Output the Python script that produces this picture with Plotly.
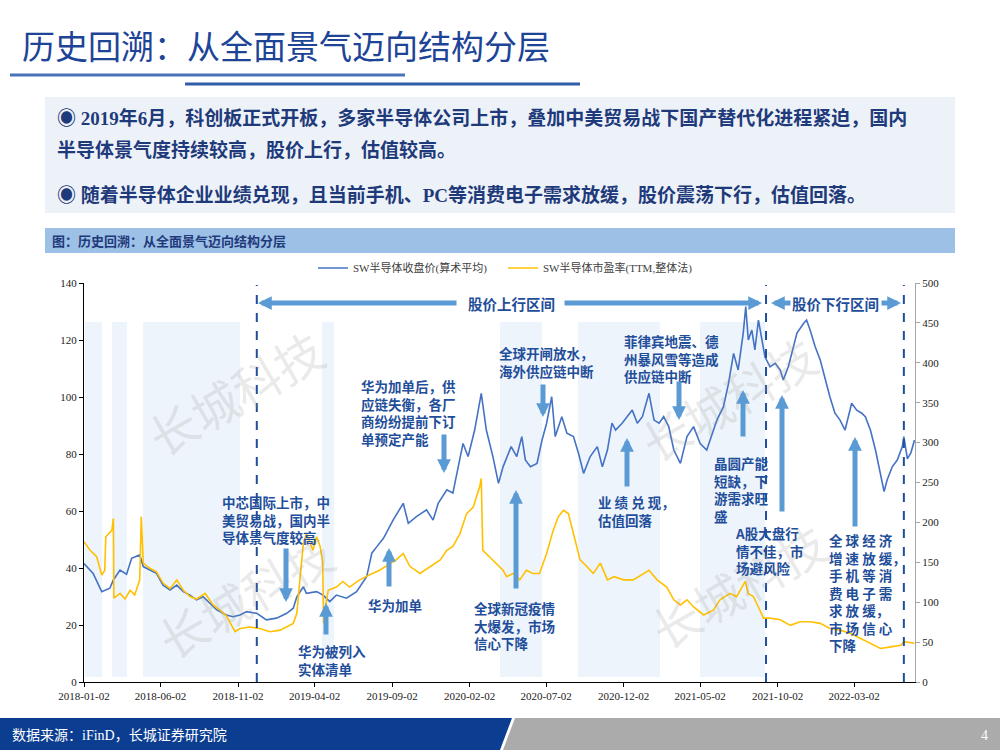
import plotly.graph_objects as go

# ---------------- data ----------------
price_dates = [
    "2018-01-02", "2018-01-20", "2018-02-06", "2018-02-22", "2018-03-01", "2018-03-14", "2018-03-27",
    "2018-04-06", "2018-04-22", "2018-04-29", "2018-05-12", "2018-05-25", "2018-06-07", "2018-06-21",
    "2018-07-04", "2018-07-17", "2018-07-30", "2018-08-12", "2018-08-25", "2018-09-07", "2018-09-21",
    "2018-10-10", "2018-10-23", "2018-11-06", "2018-11-19", "2018-12-09", "2018-12-28", "2019-01-17",
    "2019-02-06", "2019-02-19", "2019-02-26", "2019-03-11", "2019-03-17", "2019-04-06", "2019-04-19",
    "2019-05-02", "2019-05-15", "2019-06-04", "2019-06-24", "2019-07-14", "2019-07-24", "2019-08-03",
    "2019-08-16", "2019-09-04", "2019-09-24", "2019-10-04", "2019-10-20", "2019-11-09", "2019-11-22",
    "2019-12-02", "2019-12-19", "2019-12-31", "2020-01-11", "2020-01-20", "2020-01-30", "2020-02-12",
    "2020-02-25", "2020-03-06", "2020-03-19", "2020-03-30", "2020-04-08", "2020-04-24", "2020-05-05",
    "2020-05-15", "2020-05-22", "2020-06-01", "2020-06-14", "2020-06-24", "2020-07-03", "2020-07-13",
    "2020-07-20", "2020-08-02", "2020-08-12", "2020-08-25", "2020-09-04", "2020-09-14", "2020-09-27",
    "2020-10-11", "2020-10-21", "2020-10-31", "2020-11-09", "2020-11-16", "2020-11-29", "2020-12-09",
    "2020-12-19", "2020-12-29", "2021-01-08", "2021-01-21", "2021-01-31", "2021-02-10", "2021-02-19",
    "2021-03-01", "2021-03-11", "2021-03-24", "2021-04-06", "2021-04-19", "2021-05-02", "2021-05-15",
    "2021-05-28", "2021-06-04", "2021-06-17", "2021-06-27", "2021-07-07", "2021-07-16", "2021-07-26",
    "2021-07-31", "2021-08-05", "2021-08-12", "2021-08-18", "2021-08-25", "2021-09-01", "2021-09-07",
    "2021-09-17", "2021-09-27", "2021-10-07", "2021-10-13", "2021-10-23", "2021-10-30", "2021-11-09",
    "2021-11-22", "2021-11-28", "2021-12-05", "2021-12-15", "2021-12-25", "2022-01-04", "2022-01-13",
    "2022-01-23", "2022-02-02", "2022-02-12", "2022-02-19", "2022-02-25", "2022-03-07", "2022-03-17",
    "2022-03-24", "2022-04-03", "2022-04-13", "2022-04-23", "2022-04-30", "2022-05-06", "2022-05-16",
    "2022-05-26", "2022-06-05", "2022-06-08", "2022-06-15", "2022-06-22", "2022-06-29",
]
price_vals = [
    41.6, 38.1, 31.7, 32.9, 35.8, 39.3, 37.8,
    43.4, 44.6, 40.5, 39.3, 38.1, 34.0, 32.3,
    34.0, 31.7, 30.5, 28.8, 29.9, 27.6, 25.3,
    23.5, 22.9, 23.5, 24.7, 24.1, 21.8, 22.4,
    24.1, 25.9, 29.9, 33.4, 31.1, 31.7, 30.5,
    28.2, 30.5, 29.4, 31.7, 37.0, 45.2, 47.5,
    50.4, 56.8, 62.7, 55.7, 58.0, 60.4, 56.8,
    62.7, 67.4, 66.3, 75.5, 83.7, 79.1, 88.4,
    101.3, 88.4, 79.1, 69.7, 75.5, 82.6, 79.1,
    86.1, 77.9, 75.5, 76.7, 84.9, 90.8, 100.1,
    86.1, 93.1, 87.3, 86.1, 80.2, 73.2, 79.1,
    82.6, 75.5, 81.4, 90.8, 88.4, 90.8, 93.1,
    95.4, 90.8, 93.1, 101.3, 91.9, 90.8, 93.1,
    89.6, 81.4, 76.7, 86.1, 89.6, 83.7, 81.4,
    88.4, 91.9, 96.6, 104.8, 115.3, 109.5, 122.4,
    131.7, 120.0, 123.5, 116.5, 127.0, 120.0, 114.0,
    110.6, 111.8, 109.5, 106.0, 110.6, 115.3, 122.4,
    125.8, 127.0, 123.5, 117.6, 113.0, 106.0, 100.1,
    94.3, 91.9, 88.4, 93.1, 97.8, 95.4, 94.3,
    93.1, 88.4, 81.4, 72.0, 66.8, 70.9, 75.5,
    77.9, 82.6, 86.1, 78.3, 80.5, 84.9,
]

pe_dates = [
    "2018-01-02", "2018-01-14", "2018-01-27", "2018-02-06", "2018-02-12", "2018-02-14", "2018-02-26",
    "2018-03-01", "2018-03-02", "2018-03-14", "2018-03-24", "2018-04-03", "2018-04-12", "2018-04-22",
    "2018-04-25", "2018-04-29", "2018-05-12", "2018-05-25", "2018-06-07", "2018-06-21", "2018-07-04",
    "2018-07-17", "2018-07-30", "2018-08-12", "2018-08-29", "2018-09-14", "2018-09-27", "2018-10-10",
    "2018-10-27", "2018-11-06", "2018-11-25", "2018-12-15", "2019-01-04", "2019-01-24", "2019-02-19",
    "2019-02-26", "2019-03-04", "2019-03-11", "2019-03-17", "2019-03-30", "2019-04-06", "2019-04-13",
    "2019-04-18", "2019-04-20", "2019-04-25", "2019-04-29", "2019-05-15", "2019-05-28", "2019-06-10",
    "2019-06-30", "2019-07-19", "2019-08-08", "2019-08-21", "2019-09-10", "2019-09-24", "2019-10-07",
    "2019-10-27", "2019-11-16", "2019-12-06", "2019-12-19", "2019-12-31", "2020-01-14", "2020-01-27",
    "2020-02-09", "2020-02-22", "2020-02-25", "2020-02-28", "2020-03-12", "2020-03-25", "2020-04-08",
    "2020-04-15", "2020-04-28", "2020-05-11", "2020-05-24", "2020-06-06", "2020-06-19", "2020-07-03",
    "2020-07-16", "2020-07-26", "2020-08-05", "2020-08-15", "2020-08-25", "2020-09-07", "2020-09-20",
    "2020-10-03", "2020-10-17", "2020-10-31", "2020-11-13", "2020-12-02", "2020-12-21", "2021-01-10",
    "2021-01-21", "2021-02-06", "2021-02-25", "2021-03-11", "2021-03-24", "2021-04-06", "2021-04-19",
    "2021-05-09", "2021-05-28", "2021-06-10", "2021-06-30", "2021-07-13", "2021-07-23", "2021-07-30",
    "2021-08-05", "2021-08-15", "2021-08-25", "2021-09-04", "2021-09-17", "2021-10-07", "2021-10-27",
    "2021-11-15", "2021-12-05", "2021-12-25", "2022-01-13", "2022-02-02", "2022-02-22", "2022-03-14",
    "2022-04-03", "2022-04-23", "2022-05-13", "2022-06-02", "2022-06-08", "2022-06-29",
]
pe_vals = [
    175.8, 165, 157, 134, 140, 182, 190,
    205, 105, 111, 104, 115, 109, 128,
    207, 149, 142.5, 138, 124, 117, 128,
    115, 107, 104, 111, 96.5, 90, 83,
    63, 67, 69, 67, 63, 65, 73.5,
    86, 128, 174, 186, 165, 182, 170,
    150, 73.5, 100, 115, 119, 126, 119,
    128, 134, 140, 145, 153, 161, 145,
    136, 145, 153, 165, 170, 186, 211,
    219, 245, 255, 165, 157, 149, 140,
    132, 136, 128, 140, 136, 136, 161,
    190, 207, 215, 211, 186, 153, 145,
    136, 149, 128, 132, 128, 128, 136,
    140, 128, 119, 103, 96.5, 103, 94,
    84, 90, 103, 111, 107, 119, 126,
    111, 107, 94, 80, 80, 78, 71,
    75.5, 75.5, 73.5, 67, 65, 61, 55,
    48.5, 42, 44, 46, 50.5, 48.5,
]

series_names = ["SW半导体收盘价(算术平均)", "SW半导体市盈率(TTM,整体法)"]
tick_dates = ["2018-01-02", "2018-06-02", "2018-11-02", "2019-04-02", "2019-09-02", "2020-02-02",
              "2020-07-02", "2020-12-02", "2021-05-02", "2021-10-02", "2022-03-02"]
tick_labels = tick_dates
phase_dates = ["2018-12-09", "2021-09-09", "2022-06-08"]
phase_labels = ["股价上行区间", "股价下行区间"]

title_text = "历史回溯：从全面景气迈向结构分层"
bullet_lines = [
    "◉ 2019年6月，科创板正式开板，多家半导体公司上市，叠加中美贸易战下国产替代化进程紧迫，国内",
    "半导体景气度持续较高，股价上行，估值较高。",
    "◉ 随着半导体企业业绩兑现，且当前手机、PC等消费电子需求放缓，股价震荡下行，估值回落。",
]
caption_text = "图：历史回溯：从全面景气迈向结构分层"
source_text = "数据来源：iFinD，长城证券研究院"
page_no = "4"

# ---------------- layout helpers (pixel -> paper) ----------------
W, H = 1000, 750
L, R, T, B = 84, 915, 283, 682


def fx(x):
    return (x - L) / (R - L)


def fy(y):
    return (B - y) / (B - T)


BLUE = "#4472C4"
GOLD = "#FFC000"
NAVY = "#1F4E9A"
ARROW = "#5B9BD5"
CJK = "Noto Sans CJK SC"
SERIF = "Liberation Serif, Noto Sans CJK SC"

fig = go.Figure()
fig.add_trace(go.Scatter(x=price_dates, y=price_vals, name=series_names[0], mode="lines",
                         line=dict(color=BLUE, width=1.6), yaxis="y"))
fig.add_trace(go.Scatter(x=pe_dates, y=pe_vals, name=series_names[1], mode="lines",
                         line=dict(color=GOLD, width=1.6), yaxis="y2"))

shapes = []
# page decorations
shapes.append(dict(type="line", xref="paper", yref="paper", x0=fx(10), x1=fx(405), y0=fy(75), y1=fy(75),
                   line=dict(color="#4A72B8", width=3)))
shapes.append(dict(type="line", xref="paper", yref="paper", x0=fx(185), x1=fx(580), y0=fy(84), y1=fy(84),
                   line=dict(color="#2F5DAA", width=3)))
shapes.append(dict(type="rect", xref="paper", yref="paper", x0=fx(45), x1=fx(955), y0=fy(213), y1=fy(97),
                   fillcolor="#EDF2F9", line=dict(width=0), layer="below"))
shapes.append(dict(type="rect", xref="paper", yref="paper", x0=fx(45), x1=fx(955), y0=fy(253), y1=fy(228),
                   fillcolor="#9DC0E6", line=dict(width=0), layer="below"))
shapes.append(dict(type="path", xref="paper", yref="paper",
                   path="M %f,%f L %f,%f L %f,%f L %f,%f Z" % (fx(0), fy(718), fx(512), fy(718), fx(500), fy(750), fx(0), fy(750)),
                   fillcolor="#0B3D91", line=dict(width=0), layer="below"))
shapes.append(dict(type="path", xref="paper", yref="paper",
                   path="M %f,%f L %f,%f L %f,%f L %f,%f Z" % (fx(515), fy(718), fx(1000), fy(718), fx(1000), fy(750), fx(503), fy(750)),
                   fillcolor="#ABABAB", line=dict(width=0), layer="below"))
# light background bands inside the plot
for a, b in [(85, 102), (112, 127), (143, 240), (322, 334), (500, 542), (578, 660), (700, 765)]:
    shapes.append(dict(type="rect", xref="paper", yref="paper", x0=fx(a), x1=fx(b), y0=fy(677), y1=fy(322),
                       fillcolor="#EAF1FA", opacity=0.8, line=dict(width=0), layer="below"))
# phase dividers
for d in phase_dates:
    shapes.append(dict(type="line", xref="x", yref="paper", x0=d, x1=d, y0=0, y1=fy(285),
                       line=dict(color=NAVY, width=2, dash="dash")))

annotations = []
annotations.append(dict(text=title_text, xref="paper", yref="paper", x=fx(20), y=fy(45), xanchor="left",
                        yanchor="middle", showarrow=False, font=dict(family=CJK, size=33, color="#1D4497")))
for txt, yc, xl in zip(bullet_lines, [118, 150, 195], [55, 55, 55]):
    annotations.append(dict(text="<b>%s</b>" % txt, xref="paper", yref="paper", x=fx(xl), y=fy(yc),
                            xanchor="left", yanchor="middle", showarrow=False,
                            font=dict(family=SERIF, size=19, color="#1F3A7A")))
annotations.append(dict(text="<b>%s</b>" % caption_text, xref="paper", yref="paper", x=fx(50), y=fy(241),
                        xanchor="left", yanchor="middle", showarrow=False,
                        font=dict(family=CJK, size=13, color="#1F3A7A")))
annotations.append(dict(text=source_text, xref="paper", yref="paper", x=fx(10), y=fy(735),
                        xanchor="left", yanchor="middle", showarrow=False,
                        font=dict(family=SERIF, size=14, color="white")))
annotations.append(dict(text=page_no, xref="paper", yref="paper", x=fx(990), y=fy(735),
                        xanchor="right", yanchor="middle", showarrow=False,
                        font=dict(family=SERIF, size=14, color="white")))

# watermarks
for cx, cy in [(235, 392), (245, 595), (738, 585), (728, 398)]:
    annotations.append(dict(text="长城科技", xref="paper", yref="paper", x=fx(cx), y=fy(cy), showarrow=False,
                            xanchor="center", yanchor="middle", textangle=-30,
                            font=dict(family=CJK, size=48, color="rgba(150,150,150,0.2)")))

# phase labels
for lab, cx in zip(phase_labels, [511, 835]):
    annotations.append(dict(text="<b>%s</b>" % lab, xref="paper", yref="paper", x=fx(cx), y=fy(303),
                            xanchor="center", yanchor="middle", showarrow=False,
                            font=dict(family=CJK, size=14.5, color=NAVY)))


def arrow(x_head, y_head, x_tail, y_tail, w=5, size=0.55):
    return dict(text="", xref="paper", yref="paper", x=fx(x_head), y=fy(y_head),
                ax=x_tail - x_head, ay=y_tail - y_head, axref="pixel", ayref="pixel",
                showarrow=True, arrowhead=2, arrowsize=size, arrowwidth=w, arrowcolor=ARROW)


# horizontal phase arrows
annotations += [arrow(258, 303, 458, 303), arrow(762, 303, 563, 303),
                arrow(771, 303, 792, 303), arrow(901, 303, 880, 303)]

# event notes: (text lines, left x, top y)
notes = [
    ("中芯国际上市，中<br>美贸易战，国内半<br>导体景气度较高", 220, 490),
    ("华为被列入<br>实体清单", 296, 639),
    ("华为加单", 366, 593),
    ("华为加单后，供<br>应链失衡，各厂<br>商纷纷提前下订<br>单预定产能", 359, 374),
    ("全球开闸放水，<br>海外供应链中断", 497, 341),
    ("全球新冠疫情<br>大爆发，市场<br>信心下降", 472, 596),
    ("业 绩 兑 现，<br>估值回落", 596, 490),
    ("菲律宾地震、德<br>州暴风雪等造成<br>供应链中断", 622, 329),
    ("晶圆产能<br>短缺，下<br>游需求旺<br>盛", 712, 451),
    ("A股大盘行<br>情不佳，市<br>场避风险", 733, 521),
    ("全 球 经 济<br>增 速 放 缓，<br>手 机 等 消<br>费 电 子 需<br>求 放 缓，<br>市 场 信 心<br>下降", 827, 528),
]
for txt, x0, y0 in notes:
    annotations.append(dict(text="<b>%s</b>" % txt, xref="paper", yref="paper", x=fx(x0), y=fy(y0),
                            xanchor="left", yanchor="top", align="left", showarrow=False,
                            font=dict(family=CJK, size=13.5, color=NAVY)))

# event arrows (head, tail)
annotations += [
    arrow(286, 602, 286, 547),
    arrow(326, 603, 326, 636),
    arrow(389, 548, 389, 588),
    arrow(444, 473, 444, 433),
    arrow(543, 417, 543, 383),
    arrow(516, 490, 516, 590),
    arrow(627, 438, 627, 488),
    arrow(679, 420, 679, 380),
    arrow(743, 390, 743, 438),
    arrow(782, 395, 782, 513),
    arrow(855, 437, 855, 528),
]

fig.update_layout(
    width=W, height=H, autosize=False,
    margin=dict(l=L, r=W - R, t=T, b=H - B, pad=0),
    paper_bgcolor="white", plot_bgcolor="rgba(0,0,0,0)",
    showlegend=True,
    legend=dict(orientation="h", x=fx(313), y=fy(268), xanchor="left", yanchor="middle",
                font=dict(family=SERIF, size=11, color="#404040"), bgcolor="rgba(0,0,0,0)",
                entrywidth=145, entrywidthmode="pixels", itemwidth=30),
    xaxis=dict(type="date", range=["2018-01-02", "2022-06-30"], tickvals=tick_dates, ticktext=tick_labels,
               showline=True, linecolor="#000000", linewidth=1, ticks="outside", ticklen=4, tickcolor="#000000",
               showgrid=False, zeroline=False, tickfont=dict(family=SERIF, size=11, color="#222222")),
    yaxis=dict(range=[0, 140], dtick=20, showline=True, linecolor="#000000", linewidth=1, ticks="outside",
               ticklen=4, tickcolor="#000000", showgrid=False, zeroline=False,
               tickfont=dict(family=SERIF, size=11, color="#222222")),
    yaxis2=dict(range=[0, 500], dtick=50, overlaying="y", side="right", showline=True, linecolor="#A6A6A6",
                linewidth=1, ticks="outside", ticklen=4, tickcolor="#A6A6A6", showgrid=False, zeroline=False,
                tickfont=dict(family=SERIF, size=11, color="#222222")),
    shapes=shapes,
    annotations=annotations,
)

fig.write_html("out.html", config={"displayModeBar": False},
               post_script="document.body.style.margin='0px';document.body.style.overflow='hidden';")
